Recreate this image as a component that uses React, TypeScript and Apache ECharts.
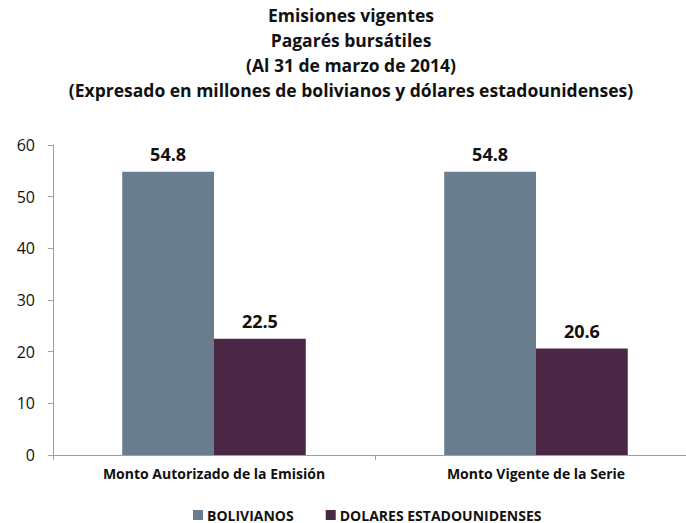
import React, { useEffect, useRef } from "react";
import * as echarts from "echarts";

const titleLines = [
  "Emisiones vigentes",
  "Pagarés bursátiles",
  "(Al 31 de marzo de 2014)",
  "(Expresado en millones de bolivianos y dólares estadounidenses)",
];
const categories = ["Monto Autorizado de la Emisión", "Monto Vigente de la Serie"];
const seriesNames = ["BOLIVIANOS", "DOLARES ESTADOUNIDENSES"];
const bolivianos = [54.8, 54.8];
const dolares = [22.5, 20.6];
const colors = ["#697D8E", "#4A2845"];

const FONT = "'Open Sans', sans-serif";

export default function App() {
  const ref = useRef<HTMLDivElement>(null);
  useEffect(() => {
    document.body.style.margin = "0";
    const chart = echarts.init(ref.current!, null, { renderer: "svg" });
    const labelStyle = {
      show: true,
      position: "top" as const,
      distance: 9,
      fontFamily: FONT,
      fontWeight: "bold" as const,
      fontSize: 18,
      color: "#111",
      formatter: (p: any) => Number(p.value).toFixed(1),
    };
    chart.setOption({
      animation: false,
      backgroundColor: "#ffffff",
      title: {
        text: titleLines.join("\n"),
        left: 351,
        top: 2,
        padding: 0,
        textAlign: "center",
        textStyle: {
          fontFamily: FONT,
          fontWeight: "bold",
          fontSize: 17.5,
          lineHeight: 25,
          color: "#111",
        },
      },
      legend: {
        left: 193,
        top: 508,
        padding: 0,
        itemWidth: 10,
        itemHeight: 10,
        itemGap: 32,
        icon: "rect",
        data: seriesNames,
        textStyle: {
          fontFamily: FONT,
          fontWeight: "bold",
          fontSize: 14,
          color: "#111",
          padding: [0, 0, 0, -1],
        },
      },
      grid: {
        left: 53,
        width: 644,
        top: 145,
        bottom: 68,
        containLabel: false,
        outerBoundsMode: "none",
      },
      xAxis: {
        type: "category",
        data: categories,
        axisLine: { lineStyle: { color: "#A0A0A0", width: 1 } },
        axisTick: { show: true, length: 5, lineStyle: { color: "#A0A0A0" } },
        axisLabel: {
          margin: 11,
          fontFamily: FONT,
          fontWeight: "bold",
          fontSize: 14,
          color: "#111",
        },
      },
      yAxis: {
        type: "value",
        min: 0,
        max: 60,
        interval: 10,
        splitLine: { show: false },
        axisLine: { show: true, lineStyle: { color: "#A0A0A0", width: 1 } },
        axisTick: { show: true, length: 5, lineStyle: { color: "#A0A0A0" } },
        axisLabel: {
          margin: 18,
          fontFamily: FONT,
          fontSize: 16,
          color: "#111",
        },
      },
      series: [
        {
          name: seriesNames[0],
          type: "bar",
          data: bolivianos,
          barGap: "0%",
          barCategoryGap: "43%",
          itemStyle: { color: colors[0] },
          label: labelStyle,
        },
        {
          name: seriesNames[1],
          type: "bar",
          data: dolares,
          barGap: "0%",
          barCategoryGap: "43%",
          itemStyle: { color: colors[1] },
          label: labelStyle,
        },
      ],
    });
    return () => chart.dispose();
  }, []);
  return <div ref={ref} style={{ width: 686, height: 523 }} />;
}
